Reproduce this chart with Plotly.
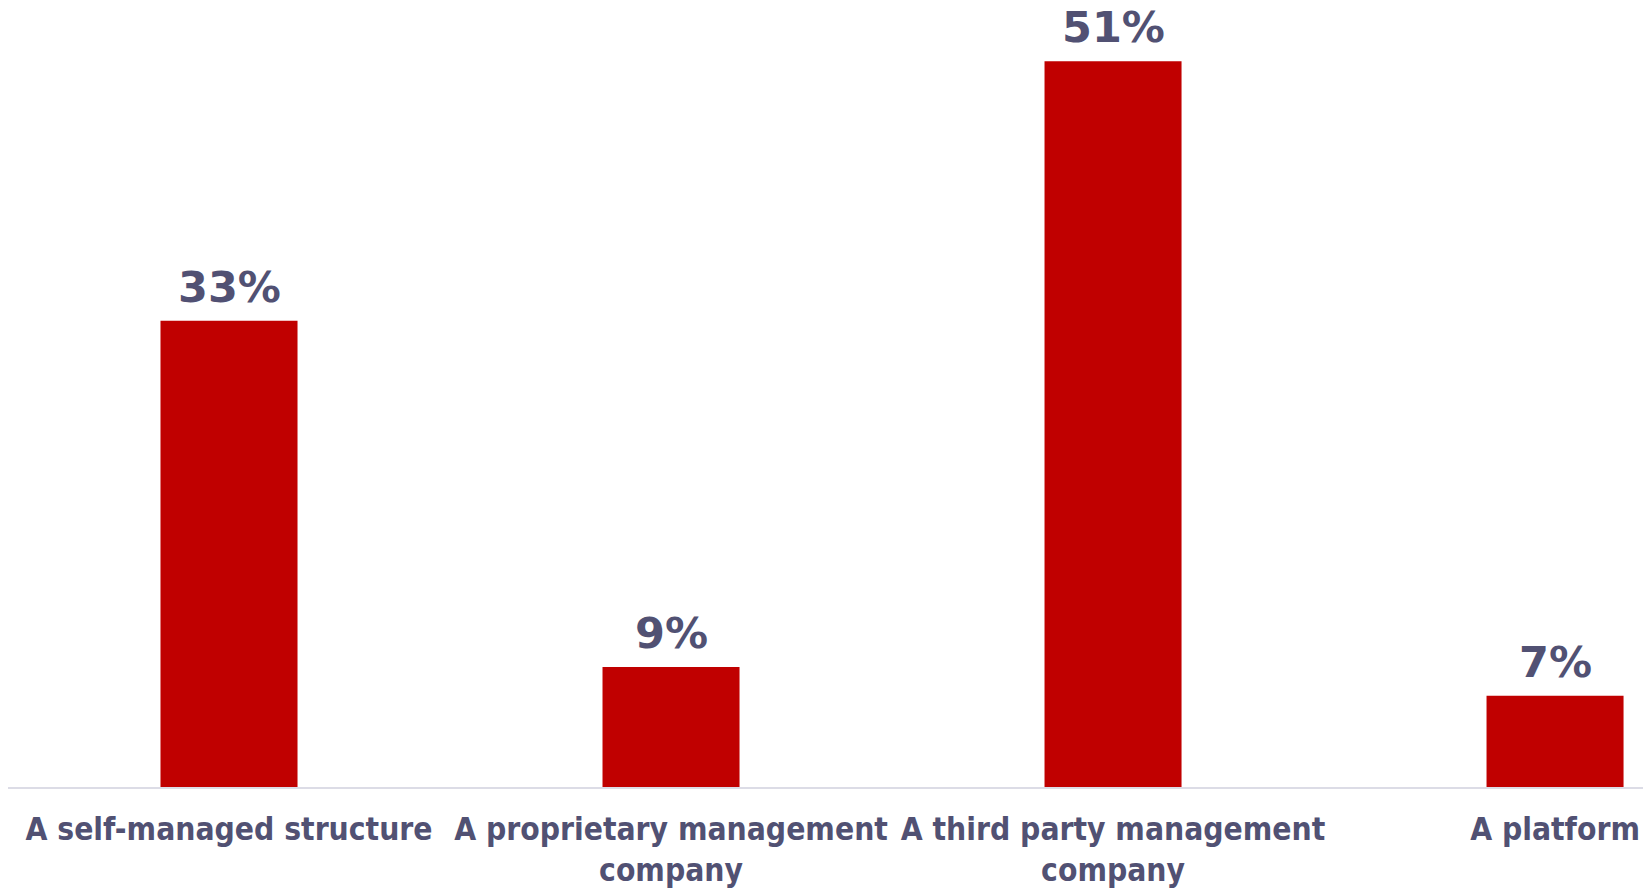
import plotly.graph_objects as go

categories = ["A self-managed structure", "A proprietary management<br>company",
              "A third party management<br>company", "A platform"]
values = [33, 9, 51, 7]
value_labels = ["33%", "9%", "51%", "7%"]

bar_color = "#C00000"
text_color = "#515173"

fig = go.Figure()
fig.add_trace(go.Bar(
    x=categories, y=values, marker=dict(color=bar_color, line=dict(width=0)),
    hoverinfo="skip",
))
for c, v, t in zip(categories, values, value_labels):
    fig.add_annotation(x=c, y=v, text=t, showarrow=False, yanchor="bottom", yshift=8,
                       borderpad=0,
                       font=dict(family="DejaVu Sans", size=43, color=text_color, weight="bold"))

fig.update_layout(
    width=1643, height=888,
    margin=dict(l=8, r=0, t=8, b=101, autoexpand=False),
    plot_bgcolor="white", paper_bgcolor="white",
    bargap=0.69, showlegend=False,
    xaxis=dict(range=[-0.5, 3.199], showline=True, linecolor="#DCDCE6", linewidth=2,
               showgrid=False, ticks="", ticklabelstandoff=13, automargin=False,
               tickfont=dict(family="DejaVu Sans Condensed, Liberation Sans Narrow, DejaVu Sans",
                             size=31.5, color=text_color, weight="bold")),
    yaxis=dict(range=[0.67, 54.7], visible=False, showgrid=False, zeroline=False, automargin=False),
)
fig.write_html("out.html", config={"displayModeBar": False},
               post_script="document.body.style.margin='0';document.body.style.overflow='hidden';")
